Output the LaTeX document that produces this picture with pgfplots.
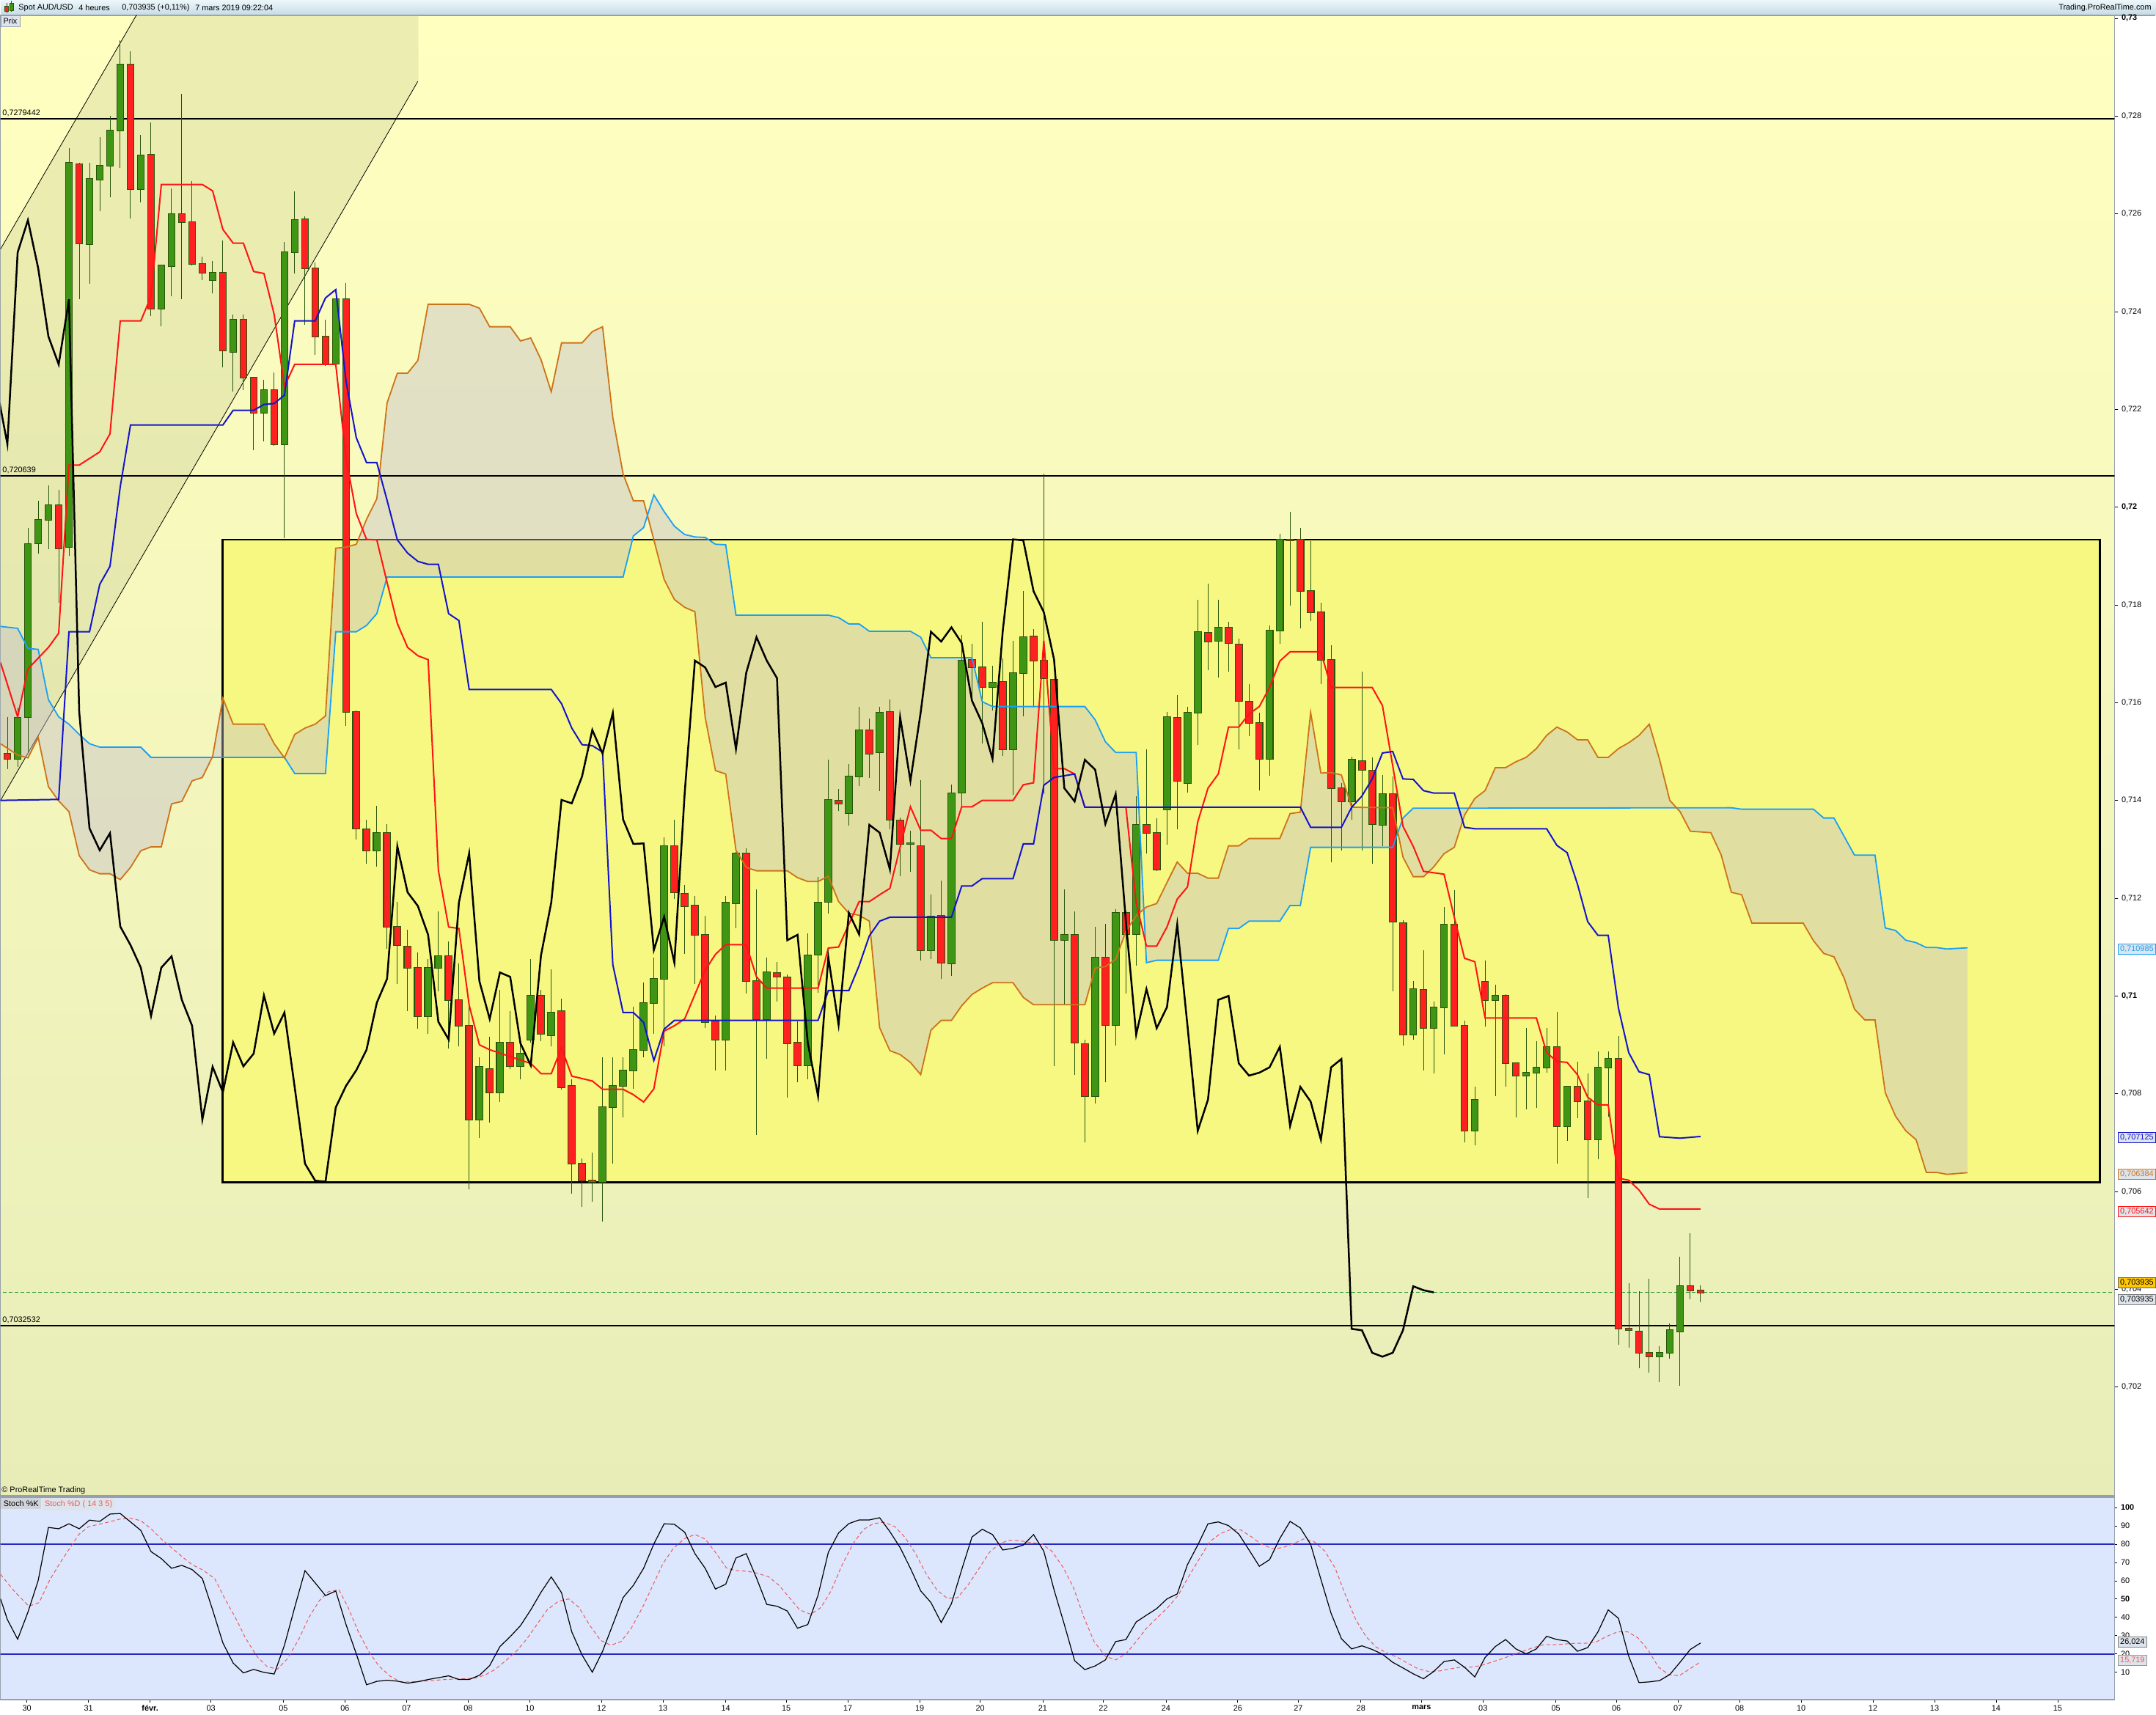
\documentclass[border=0pt]{standalone}
\usepackage{fontspec}
\setmainfont{Liberation Sans}
\usepackage{pgfplots}
\pgfplotsset{compat=1.18}
\usepackage{pgfplotstable}

\definecolor{bgtop}{RGB}{255,255,192}
\definecolor{bgbot}{RGB}{232,237,184}
\definecolor{boxyel}{RGB}{246,248,130}
\definecolor{chan}{RGB}{190,195,140}
\definecolor{kumo}{RGB}{195,190,205}
\definecolor{senkA}{RGB}{25,160,245}
\definecolor{senkB}{RGB}{205,115,25}
\definecolor{tenkan}{RGB}{255,20,20}
\definecolor{kijun}{RGB}{20,20,205}
\definecolor{cgreen}{RGB}{62,150,20}
\definecolor{cred}{RGB}{255,32,32}
\definecolor{cedge}{RGB}{40,85,12}
\definecolor{stochbg}{RGB}{220,230,252}
\definecolor{stochln}{RGB}{40,40,195}
\definecolor{stochd}{RGB}{238,90,90}
\definecolor{hdtop}{RGB}{236,247,252}
\definecolor{hdbot}{RGB}{198,218,228}
\definecolor{framec}{RGB}{150,160,172}
\definecolor{lblbg}{RGB}{222,228,236}
\definecolor{dashgr}{RGB}{30,150,40}

\newcommand\tf{\fontsize{3.1}{3.6}\selectfont}

% candles: x o h l c
\pgfplotstableread{
x o h l c
1 .71485 .71590 .71469 .71569
2 .71571 .71958 .71500 .71924
3 .71926 .72013 .71905 .71974
4 .71974 .72044 .71914 .72004
6 .71918 .72734 .71900 .72704
8 .72538 .72704 .72457 .72671
9 .72670 .72757 .72605 .72698
10 .72698 .72801 .72634 .72770
11 .72770 .72955 .72694 .72906
13 .72650 .72762 .72623 .72719
15 .72406 .72496 .72370 .72494
16 .72493 .72652 .72431 .72599
20 .72464 .72503 .72437 .72480
22 .72318 .72394 .72236 .72384
25 .72193 .72261 .72135 .72240
27 .72129 .72542 .71937 .72521
28 .72521 .72646 .72478 .72587
32 .72294 .72425 .72294 .72425
36 .71298 .71389 .71265 .71333
41 .70959 .71076 .70923 .71058
42 .71058 .71173 .71009 .71081
46 .70747 .70874 .70709 .70855
48 .70803 .71012 .70783 .70905
50 .70856 .70905 .70829 .70882
51 .70910 .71076 .70905 .71001
53 .70920 .71055 .70897 .70966
58 .70619 .70874 .70538 .70772
59 .70772 .70874 .70657 .70816
60 .70816 .70874 .70752 .70848
61 .70848 .70978 .70810 .70890
62 .70890 .71027 .70874 .70986
63 .70986 .71078 .70923 .71035
64 .71035 .71324 .70897 .71306
70 .70911 .71205 .70847 .71191
71 .71189 .71295 .71139 .71292
74 .70953 .71078 .70871 .71048
78 .70858 .71128 .70830 .71083
79 .71085 .71243 .71006 .71191
80 .71192 .71484 .71169 .71401
82 .71374 .71475 .71348 .71449
83 .71449 .71591 .71430 .71544
85 .71498 .71592 .71419 .71579
88 .71311 .71338 .71254 .71312
90 .71094 .71207 .71075 .71162
92 .71066 .71432 .71041 .71414
93 .71416 .71738 .71384 .71686
96 .71632 .71675 .71584 .71641
98 .71504 .71726 .71411 .71661
99 .71660 .71828 .71572 .71734
103 .71114 .71218 .70982 .71125
106 .70795 .71141 .70780 .71079
108 .70941 .71177 .70899 .71170
110 .71127 .71409 .71062 .71350
113 .71382 .71581 .71309 .71570
115 .71436 .71592 .71416 .71580
116 .71580 .71810 .71513 .71745
118 .71727 .71810 .71652 .71754
123 .71485 .71758 .71450 .71747
124 .71747 .71945 .71720 .71934
131 .71398 .71489 .71361 .71483
134 .71350 .71452 .71306 .71413
137 .70921 .71031 .70910 .71014
139 .70934 .70989 .70841 .70977
140 .70977 .71182 .70880 .71146
143 .70724 .70814 .70694 .70788
145 .70992 .71023 .70795 .71000
148 .70837 .70934 .70768 .70843
149 .70843 .70907 .70771 .70854
150 .70854 .70934 .70843 .70896
152 .70734 .70816 .70704 .70814
155 .70706 .70886 .70666 .70854
156 .70854 .70886 .70753 .70871
161 .70262 .70283 .70210 .70270
162 .70270 .70330 .70258 .70316
163 .70314 .70467 .70203 .70406
}\upcandles

\pgfplotstableread{
x o h l c
0 .71495 .71571 .71464 .71485
5 .72004 .72036 .71805 .71916
7 .72702 .72704 .72425 .72539
12 .72906 .72932 .72591 .72650
14 .72721 .72787 .72391 .72406
17 .72599 .72845 .72426 .72583
18 .72583 .72667 .72494 .72498
19 .72497 .72513 .72465 .72480
21 .72480 .72545 .72286 .72320
23 .72384 .72394 .72240 .72265
24 .72265 .72267 .72116 .72193
26 .72240 .72275 .72126 .72129
29 .72589 .72595 .72373 .72489
30 .72489 .72500 .72312 .72349
31 .72349 .72384 .72289 .72292
33 .72425 .72458 .71552 .71581
34 .71581 .71584 .71320 .71343
35 .71341 .71360 .71270 .71298
37 .71333 .71352 .71096 .71142
38 .71142 .71193 .71024 .71104
39 .71101 .71135 .70969 .71058
40 .71058 .71089 .70933 .70959
43 .71081 .71112 .70893 .70992
44 .70992 .71066 .70897 .70939
45 .70939 .70982 .70604 .70747
47 .70851 .70917 .70741 .70803
49 .70905 .70969 .70851 .70856
52 .71001 .71012 .70908 .70923
54 .70969 .70994 .70809 .70813
55 .70816 .70829 .70596 .70657
56 .70657 .70668 .70568 .70622
57 .70622 .70679 .70579 .70620
65 .71307 .71361 .71198 .71212
66 .71209 .71227 .71086 .71184
67 .71185 .71205 .71025 .71125
68 .71125 .71164 .70935 .70947
69 .70948 .70960 .70848 .70911
72 .71291 .71302 .71005 .71030
73 .71030 .71218 .70715 .70953
75 .71047 .71069 .70989 .71039
76 .71038 .71044 .70792 .70903
77 .70905 .70948 .70823 .70858
81 .71400 .71423 .71378 .71394
84 .71544 .71568 .71446 .71496
86 .71581 .71607 .71341 .71361
87 .71359 .71365 .71245 .71311
89 .71307 .71441 .71073 .71094
91 .71164 .71236 .71035 .71068
94 .71687 .71720 .71607 .71672
95 .71672 .71766 .71516 .71632
97 .71643 .71690 .71491 .71505
100 .71736 .71750 .71590 .71686
101 .71686 .72068 .71413 .71650
102 .71647 .71649 .70857 .71114
104 .71125 .71173 .70839 .70904
105 .70902 .70910 .70701 .70795
107 .71079 .71147 .70823 .70941
109 .71170 .71175 .71005 .71126
111 .71350 .71504 .71291 .71334
112 .71333 .71363 .71256 .71259
114 .71569 .71616 .71341 .71440
117 .71743 .71843 .71666 .71725
119 .71754 .71765 .71663 .71722
120 .71719 .71731 .71504 .71604
121 .71602 .71638 .71531 .71558
122 .71558 .71580 .71420 .71485
125 .71934 .71990 .71799 .71932
126 .71934 .71958 .71752 .71828
127 .71828 .71931 .71767 .71785
128 .71785 .71804 .71638 .71688
129 .71688 .71718 .71273 .71425
130 .71425 .71436 .71298 .71398
132 .71480 .71663 .71297 .71463
133 .71461 .71488 .71270 .71352
135 .71413 .71449 .71010 .71152
136 .71149 .71155 .70898 .70921
138 .71013 .71093 .70848 .70934
141 .71146 .71216 .70937 .70939
142 .70939 .70950 .70701 .70724
144 .71029 .71073 .70937 .70992
146 .71000 .71004 .70814 .70862
147 .70862 .70864 .70751 .70837
151 .70896 .70968 .70657 .70734
153 .70814 .70866 .70750 .70784
154 .70784 .70841 .70586 .70706
157 .70871 .70918 .70287 .70319
158 .70319 .70412 .70280 .70316
159 .70314 .70396 .70238 .70270
160 .70270 .70421 .70229 .70262
164 .70406 .70515 .70380 .70398
165 .70398 .70408 .70374 .703935
}\downcandles

% Tenkan-sen
\pgfplotstableread{
x y
-0.67 .71682
1 .71571
2 .71669
4 .71713
5 .71742
6 .72086
7 .72086
9 .72113
10 .72150
11 .72381
13 .72381
14 .72431
15 .72660
19 .72660
20 .72647
21 .72568
22 .72540
23 .72540
24 .72482
25 .72478
26 .72394
27 .72247
28 .72292
32 .72292
33 .72100
34 .71987
35 .71934
36 .71933
37 .71846
38 .71762
39 .71713
40 .71696
41 .71688
42 .71257
43 .71141
44 .71138
45 .70981
46 .70900
47 .70890
51 .70862
52 .70841
53 .70841
54 .70894
55 .70836
57 .70826
58 .70809
60 .70809
61 .70798
62 .70783
63 .70810
64 .70928
65 .70939
66 .70953
68 .71053
69 .71085
70 .71105
72 .71105
73 .71039
74 .71016
79 .71016
80 .71098
81 .71100
83 .71193
84 .71193
85 .71207
86 .71220
87 .71305
88 .71387
89 .71339
90 .71339
91 .71322
92 .71322
93 .71387
94 .71387
95 .71400
98 .71400
99 .71432
100 .71436
101 .71727
102 .71465
103 .71465
104 .71454
105 .71386
109 .71386
110 .71191
111 .71102
112 .71102
113 .71141
114 .71198
115 .71223
116 .71356
117 .71425
118 .71454
119 .71550
120 .71550
121 .71577
122 .71592
123 .71631
124 .71685
125 .71704
128 .71704
129 .71631
133 .71631
134 .71594
135 .71471
136 .71347
137 .71306
138 .71255
140 .71249
141 .71161
142 .71077
143 .71070
144 .70955
149 .70955
150 .70884
151 .70866
152 .70864
153 .70839
154 .70793
155 .70777
156 .70777
157 .70627
158 .70623
159 .70603
160 .70574
161 .70564
165 .705642
}\tenkan

% Kijun-sen
\pgfplotstableread{
x y
-0.67 .71400
5 .71402
6 .71745
8 .71745
9 .71842
10 .71879
11 .72042
12 .72168
21 .72168
22 .72198
24 .72198
25 .72210
26 .72212
27 .72229
28 .72381
30 .72381
31 .72428
32 .72445
33 .72258
34 .72142
35 .72091
36 .72091
37 .72014
38 .71933
39 .71906
40 .71889
41 .71883
42 .71883
43 .71782
44 .71768
45 .71627
53 .71627
54 .71598
55 .71548
56 .71514
57 .71512
58 .71499
59 .71064
60 .70966
61 .70966
62 .70946
63 .70868
64 .70932
65 .70950
79 .70950
80 .71011
82 .71011
83 .71062
84 .71123
85 .71153
86 .71161
92 .71161
93 .71225
94 .71225
95 .71240
98 .71240
99 .71311
100 .71311
101 .71431
102 .71447
104 .71454
105 .71386
126 .71386
127 .71345
130 .71345
131 .71386
132 .71409
133 .71444
134 .71497
135 .71500
136 .71444
137 .71443
138 .71420
139 .71415
141 .71415
142 .71345
143 .71342
150 .71342
151 .71308
152 .71293
153 .71229
154 .71152
155 .71124
156 .71124
157 .70975
158 .70884
159 .70845
160 .70839
161 .70712
163 .70709
165 .707125
}\kijun

% Senkou span A (light blue)
\pgfplotstableread{
x y
-0.67 .71756
1 .71752
2 .71711
3 .71709
4 .71606
5 .71571
6 .71556
7 .71535
8 .71516
9 .71509
13 .71509
14 .71488
27 .71488
28 .71455
31 .71455
32 .71745
34 .71745
35 .71758
36 .71782
37 .71857
60 .71857
61 .71941
62 .71958
63 .72025
64 .71991
65 .71961
66 .71944
67 .71939
68 .71938
69 .71924
70 .71923
71 .71779
80 .71779
81 .71774
82 .71761
83 .71761
84 .71746
88 .71746
89 .71734
90 .71692
94 .71692
95 .71602
96 .71592
105 .71592
106 .71565
107 .71520
108 .71498
110 .71498
111 .71068
112 .71073
118 .71073
119 .71138
120 .71138
121 .71153
124 .71153
125 .71185
126 .71185
127 .71304
135 .71304
136 .71364
137 .71384
168 .71385
169 .71382
176 .71382
177 .71364
178 .71364
179 .71326
180 .71288
182 .71288
183 .71139
184 .71134
185 .71114
186 .71109
187 .71099
188 .71099
189 .71096
191 .710985
}\senkA

% Senkou span B (orange)
\pgfplotstableread{
x y
-0.67 .71516
1 .71493
2 .71487
3 .71529
4 .71428
5 .71399
6 .71377
7 .71287
8 .71258
9 .71250
10 .71250
11 .71238
12 .71263
13 .71297
14 .71305
15 .71305
16 .71393
17 .71398
18 .71440
19 .71447
20 .71490
21 .71609
22 .71556
25 .71556
26 .71516
27 .71487
28 .71535
29 .71548
30 .71556
31 .71573
32 .71916
33 .71918
34 .71924
35 .71975
36 .72017
37 .72213
38 .72274
39 .72274
40 .72300
41 .72415
45 .72415
46 .72407
47 .72369
49 .72369
50 .72340
51 .72346
52 .72302
53 .72236
54 .72336
56 .72336
57 .72359
58 .72369
59 .72183
60 .72068
61 .72013
62 .72013
63 .71933
64 .71852
65 .71811
66 .71795
67 .71786
68 .71570
69 .71461
70 .71454
71 .71298
72 .71263
73 .71256
76 .71256
77 .71242
78 .71234
79 .71234
80 .71245
81 .71193
82 .71169
83 .71165
84 .71153
85 .70935
86 .70888
87 .70880
88 .70864
89 .70839
90 .70930
91 .70950
92 .70950
93 .70980
94 .71003
95 .71016
96 .71027
98 .71027
99 .70997
100 .70982
105 .70982
106 .71057
107 .71060
108 .71075
109 .71132
110 .71164
111 .71182
112 .71189
113 .71232
114 .71274
115 .71251
116 .71251
117 .71241
118 .71241
119 .71307
120 .71307
121 .71322
124 .71322
125 .71373
126 .71376
127 .71580
128 .71456
129 .71457
130 .71452
131 .71386
135 .71385
136 .71284
137 .71244
138 .71244
139 .71264
140 .71291
141 .71304
142 .71370
143 .71404
144 .71420
145 .71467
146 .71467
147 .71479
148 .71488
149 .71506
150 .71533
151 .71550
152 .71540
153 .71524
154 .71524
155 .71488
156 .71488
157 .71506
158 .71518
159 .71533
160 .71556
161 .71484
162 .71400
163 .71377
164 .71337
166 .71334
167 .71289
168 .71212
169 .71207
170 .71149
175 .71149
176 .71113
177 .71087
178 .71080
179 .71036
180 .70973
181 .70951
182 .70951
183 .70802
184 .70754
185 .70724
186 .70706
187 .70639
188 .70639
189 .70635
191 .706384
}\senkB

% cloud outline: span A forward, span B backward
\pgfplotstablevertcat{\kumopoly}{\senkA}
\pgfplotstablesort[sort key=x, sort cmp={float >}]{\senkBrev}{\senkB}
\pgfplotstablevertcat{\kumopoly}{\senkBrev}

% Chikou span (close shifted back 26 periods)
\pgfplotstableread{
x y
-1 .72240
0 .72129
1 .72521
2 .72587
3 .72489
4 .72349
5 .72292
6 .72425
7 .71581
8 .71343
9 .71298
10 .71333
11 .71142
12 .71104
13 .71058
14 .70959
15 .71058
16 .71081
17 .70992
18 .70939
19 .70747
20 .70855
21 .70803
22 .70905
23 .70856
24 .70882
25 .71001
26 .70923
27 .70966
28 .70813
29 .70657
30 .70622
31 .70620
32 .70772
33 .70816
34 .70848
35 .70890
36 .70986
37 .71035
38 .71306
39 .71212
40 .71184
41 .71125
42 .70947
43 .70911
44 .71191
45 .71292
46 .71030
47 .70953
48 .71048
49 .71039
50 .70903
51 .70858
52 .71083
53 .71191
54 .71401
55 .71394
56 .71449
57 .71544
58 .71496
59 .71579
60 .71361
61 .71311
62 .71312
63 .71094
64 .71162
65 .71068
66 .71414
67 .71686
68 .71672
69 .71632
70 .71641
71 .71505
72 .71661
73 .71734
74 .71686
75 .71650
76 .71114
77 .71125
78 .70904
79 .70795
80 .71079
81 .70941
82 .71170
83 .71126
84 .71350
85 .71334
86 .71259
87 .71570
88 .71440
89 .71580
90 .71745
91 .71725
92 .71754
93 .71722
94 .71604
95 .71558
96 .71485
97 .71747
98 .71934
99 .71932
100 .71828
101 .71785
102 .71688
103 .71425
104 .71398
105 .71483
106 .71463
107 .71352
108 .71413
109 .71152
110 .70921
111 .71014
112 .70934
113 .70977
114 .71146
115 .70939
116 .70724
117 .70788
118 .70992
119 .71000
120 .70862
121 .70837
122 .70843
123 .70854
124 .70896
125 .70734
126 .70814
127 .70784
128 .70706
129 .70854
130 .70871
131 .70319
132 .70316
133 .70270
134 .70262
135 .70270
136 .70316
137 .70406
138 .70398
139 .703935
}\chikou

% Stochastic %K
\pgfplotstableread{
x y
-0.67 50.1
0 38.8
1 28.1
2 42.8
3 60.1
4 89.1
5 88.4
6 91.1
7 88.4
8 93.1
9 92.4
10 96.4
11 96.7
12 92.1
13 87.5
14 75.9
15 72.1
16 66.8
17 68.4
18 66.1
19 61.2
20 44.1
21 26.1
22 15.1
23 9.7
24 11.6
25 10.0
26 9.1
27 24.8
28 45.5
29 65.5
30 58.8
31 51.9
32 54.4
33 36.1
34 20.1
35 3.2
36 5.1
37 5.7
38 5.2
39 4.1
40 4.9
41 6.1
42 7.1
43 8.1
44 6.1
45 6.1
46 8.4
47 13.7
48 24.1
49 29.5
50 35.5
51 44.1
52 53.7
53 62.1
54 53.5
55 32.1
56 19.5
57 10.1
58 21.5
59 36.1
60 50.8
61 57.5
62 66.8
63 80.1
64 91.1
65 90.8
66 86.5
67 74.8
68 66.8
69 55.5
70 58.1
71 72.4
72 74.8
73 61.5
74 47.1
75 46.1
76 43.5
77 34.1
78 36.1
79 52.1
80 75.5
81 86.1
82 91.2
83 93.2
84 93.2
85 94.4
86 86.8
87 78.1
88 66.8
89 54.5
90 48.1
91 37.2
92 47.5
93 66.1
94 83.9
95 88.1
96 85.2
97 76.8
98 77.7
99 79.5
100 85.2
101 76.1
102 55.0
103 36.1
104 16.4
105 11.5
106 13.5
107 16.8
108 26.8
109 27.9
110 37.5
111 41.2
112 44.8
113 50.1
114 52.8
115 68.8
116 79.5
117 91.1
118 92.1
119 90.1
120 85.5
121 76.8
122 67.9
123 71.5
124 83.1
125 92.4
126 88.8
127 79.9
128 60.8
129 42.1
130 28.4
131 22.8
132 24.5
133 22.5
134 19.9
135 15.5
136 12.4
137 9.2
138 6.5
139 10.5
140 15.9
141 16.8
142 12.8
143 7.5
144 18.1
145 24.1
146 27.9
147 22.8
148 20.1
149 22.8
150 29.7
151 27.9
152 27.1
153 21.5
154 23.5
155 32.1
156 44.1
157 39.5
158 18.8
159 4.4
160 4.8
161 5.5
162 8.8
163 15.5
164 22.5
165 26.024
}\stochK

% Stochastic %D
\pgfplotstableread{
x y
-0.67 63.5
0.7 54.1
2.1 46.1
3.1 48.1
4.1 60.1
5.1 69.5
6.2 78.8
7 85.5
7.9 89.5
8.9 90.8
9.9 92.1
11 93.7
12 94.1
13 92.8
14 88.4
15 82.8
16.1 77.5
17.1 72.8
18 68.8
19.1 65.7
20.2 61.2
21.2 50.1
22.2 40.1
23.2 28.8
24.3 18.8
25.3 13.2
26.3 11.7
27.3 17.5
28.4 28.1
29.4 40.1
30.4 49.1
31.3 54.1
32.3 55.1
33.2 45.5
34.2 32.1
35.2 21.5
36.2 13.5
37.3 7.9
38.3 4.8
39.3 4.8
40.3 5.1
41.4 5.5
42.4 6.0
43.4 6.3
44.4 6.5
45.5 6.8
46.5 8.4
47.5 11.5
48.5 16.1
49.6 21.5
50.6 28.1
51.6 36.1
52.6 44.1
53.7 48.8
54.7 50.1
55.7 45.5
56.7 36.1
57.8 27.5
58.8 24.8
59.8 26.8
60.8 34.1
61.9 45.5
62.9 57.5
63.9 69.5
64.9 77.7
66 83.1
67 85.2
68 82.8
69 75.5
70.1 66.8
71.1 65.5
72.1 65.2
73.1 64.1
74.2 62.1
75.2 57.5
76.2 50.8
77.2 44.1
78.3 41.7
79.3 45.5
80.3 54.8
81.3 68.1
82.4 80.1
83.4 87.9
84.4 91.2
85.4 91.9
86.5 89.5
87.5 83.5
88.5 74.8
89.5 64.1
90.6 54.8
91.6 50.4
92.6 50.8
93.6 57.5
94.7 66.8
95.7 75.5
96.7 80.4
97.7 82.1
98.8 81.7
99.8 80.8
100.8 80.1
101.8 76.1
102.9 67.1
103.9 56.1
104.9 40.1
105.9 26.8
107 18.8
108 16.8
109 20.1
110 26.8
111 34.1
112.1 40.1
113.1 45.5
114.1 52.1
115.1 62.1
116.1 71.5
117.2 81.5
118.2 85.7
119.2 87.9
120.2 87.7
121.2 84.1
122.2 79.9
123.3 77.5
124.3 78.1
125.3 80.1
126.3 82.8
127.3 81.5
128.4 76.1
129.4 66.8
130.4 52.1
131.4 38.8
132.4 29.5
133.4 23.7
134.5 20.4
135.5 18.1
136.5 14.8
137.5 11.9
138.5 10.5
139.6 10.8
140.6 11.9
141.6 12.8
142.6 12.8
143.6 13.7
144.6 15.5
145.7 17.5
146.7 19.5
147.7 21.5
148.7 23.5
149.7 25.1
150.8 25.1
151.8 25.5
152.8 25.9
153.8 25.9
154.8 26.5
155.8 29.5
156.9 32.1
157.9 32.1
158.9 28.8
159.9 22.1
160.9 12.8
161.9 8.8
162.9 8.1
164 12.1
165 15.719
}\stochD

\pgfplotsset{
  candlewick/.style={draw=none, mark=none, forget plot,
    error bars/.cd, y dir=plus, y explicit, error mark=none,
    error bar style={line width=0.1mm, draw=cedge}},
  candlebody/.style 2 args={draw=none, mark=none, forget plot,
    error bars/.cd, y dir=plus, y explicit, error mark=none,
    error bar style={line width=#1, draw=#2}},
}

\begin{document}
\begin{tikzpicture}
\fill[white] (0,0) rectangle (294mm,234mm);
% header bar
\shade[top color=hdtop, bottom color=hdbot] (0,231.9mm) rectangle (294mm,234mm);
\draw[framec, line width=0.15mm] (0,231.9mm) -- (294mm,231.9mm);
% price panel background
\shade[top color=bgtop, bottom color=bgbot] (0,29.9mm) rectangle (288.4mm,231.9mm);
% stoch panel background
\fill[stochbg] (0,2.1mm) rectangle (288.4mm,29.7mm);

\begin{axis}[
  at={(0,29.9mm)}, anchor=south west,
  width=288.4mm, height=202mm, scale only axis,
  xmin=-0.6664, xmax=205.33,
  ymin=0.6997751, ymax=0.73006,
  axis line style={draw=framec, line width=0.15mm},
  xtick=\empty,
  ytick={0.702,0.704,0.706,0.708,0.71,0.712,0.714,0.716,0.718,0.72,0.722,0.724,0.726,0.728,0.73},
  yticklabels={{0,702},{0,704},{0,706},{0,708},{\bfseries 0,71},{0,712},{0,714},{0,716},{0,718},{\bfseries 0,72},{0,722},{0,724},{0,726},{0,728},{\bfseries 0,73}},
  ytick pos=right, yticklabel pos=right,
  tick align=outside, major tick length=0.5mm,
  tick style={draw=black, line width=0.08mm},
  yticklabel style={font=\tf, anchor=west, inner sep=0.4mm},
  scaled y ticks=false,
  clip=true,
]
% rising channel shading and lines
\addplot[fill=chan, fill opacity=0.28, draw=none, forget plot]
  coordinates {(-0.6664,0.72528) (12.56,0.73006) (40.05,0.73006) (40.05,0.72873) (-0.6664,0.71400)} -- cycle;
\addplot[black, line width=0.08mm] coordinates {(-0.6664,0.72528) (13.5,0.73040)};
\addplot[black, line width=0.08mm] coordinates {(-0.6664,0.71400) (40.0,0.72871)};

% rectangle zone
\addplot[fill=boxyel, draw=black, line width=0.25mm]
  coordinates {(20.96,0.719331) (203.93,0.719331) (203.93,0.706187) (20.96,0.706187)} -- cycle;

% kumo
\addplot[fill=kumo, fill opacity=0.42, draw=none, forget plot] table {\kumopoly} -- cycle;

% horizontal levels
\addplot[black, line width=0.2mm] coordinates {(-1,0.7279442) (206,0.7279442)};
\addplot[black, line width=0.2mm] coordinates {(-1,0.720639) (206,0.720639)};
\addplot[black, line width=0.2mm] coordinates {(-1,0.7032532) (206,0.7032532)};
\addplot[dashgr, line width=0.1mm, dash pattern=on 0.5mm off 0.3mm] coordinates {(-1,0.703935) (206,0.703935)};

% candles: wicks
\addplot[candlewick] table[x=x, y=l, y error plus expr={\thisrow{h}-\thisrow{l}}] {\upcandles};
\addplot[candlewick] table[x=x, y=l, y error plus expr={\thisrow{h}-\thisrow{l}}] {\downcandles};
% bodies: edge then fill
\addplot[candlebody={1.07mm}{cedge}]
  table[x=x, y expr={\thisrow{o}-0.000014}, y error plus expr={\thisrow{c}-\thisrow{o}+0.000028}] {\upcandles};
\addplot[candlebody={0.85mm}{cgreen}]
  table[x=x, y=o, y error plus expr={\thisrow{c}-\thisrow{o}}] {\upcandles};
\addplot[candlebody={1.07mm}{cedge}]
  table[x=x, y expr={\thisrow{c}-0.000014}, y error plus expr={\thisrow{o}-\thisrow{c}+0.000028}] {\downcandles};
\addplot[candlebody={0.85mm}{cred}]
  table[x=x, y=c, y error plus expr={\thisrow{o}-\thisrow{c}}] {\downcandles};

% ichimoku lines
\addplot[senkA, line width=0.18mm] table {\senkA};
\addplot[senkB, line width=0.18mm] table {\senkB};
\addplot[tenkan, line width=0.2mm] table {\tenkan};
\addplot[kijun, line width=0.2mm] table {\kijun};
\addplot[black, line width=0.25mm] table {\chikou};

\node[font=\tf, anchor=south west, inner sep=0.2mm] at (axis cs:-0.6664,0.7279442) {0,7279442};
\node[font=\tf, anchor=south west, inner sep=0.2mm] at (axis cs:-0.6664,0.720639) {0,720639};
\node[font=\tf, anchor=south west, inner sep=0.2mm] at (axis cs:-0.6664,0.7032532) {0,7032532};
\end{axis}

\begin{axis}[
  at={(0,2.1mm)}, anchor=south west,
  width=288.4mm, height=27.6mm, scale only axis,
  xmin=-0.6664, xmax=205.33,
  ymin=-4.8, ymax=105.6,
  axis line style={draw=framec, line width=0.15mm},
  xtick={1.9,7.9,13.9,19.83,26.9,32.9,38.9,44.9,50.9,57.9,63.9,70,75.9,81.9,88.9,94.8,100.9,106.8,112.9,119.9,125.8,131.9,137.8,143.8,150.9,156.8,162.8,168.8,174.8,181.8,187.8,193.8,199.8},
  xticklabels={30,31,\textbf{févr.},03,05,06,07,08,10,12,13,14,15,17,19,20,21,22,24,26,27,28,\textbf{mars},03,05,06,07,08,10,12,13,14,15},
  xtick pos=bottom,
  ytick={10,20,30,40,50,60,70,80,90,100},
  yticklabels={10,20,30,40,\bfseries 50,60,70,80,90,\bfseries 100},
  ytick pos=right, yticklabel pos=right,
  tick align=outside, major tick length=0.4mm,
  tick style={draw=black, line width=0.08mm},
  yticklabel style={font=\tf, anchor=west, inner sep=0.4mm},
  xticklabel style={font=\tf, inner sep=0.3mm},
]
\addplot[stochln, line width=0.2mm] coordinates {(-1,80) (206,80)};
\addplot[stochln, line width=0.2mm] coordinates {(-1,20) (206,20)};
\addplot[stochd, line width=0.1mm, dash pattern=on 0.5mm off 0.35mm] table {\stochD};
\addplot[black, line width=0.12mm] table {\stochK};
\end{axis}

% header texts and icon
\draw[cedge, line width=0.08mm] (0.85mm,232.2mm) -- (0.85mm,233.6mm);
\fill[cred, draw=cedge, line width=0.05mm] (0.6mm,232.5mm) rectangle (1.1mm,233.2mm);
\draw[cedge, line width=0.08mm] (1.5mm,232.4mm) -- (1.5mm,233.9mm);
\fill[cgreen, draw=cedge, line width=0.05mm] (1.25mm,232.6mm) rectangle (1.75mm,233.6mm);
\node[font=\tf, anchor=west, inner sep=0] at (2.4mm,232.95mm) {Spot AUD/USD};
\node[font=\tf, anchor=west, inner sep=0] at (10.6mm,232.95mm) {4 heures};
\node[font=\tf, anchor=west, inner sep=0] at (16.5mm,232.95mm) {0,703935 (+0,11\%)};
\node[font=\tf, anchor=west, inner sep=0] at (26.5mm,232.95mm) {7 mars 2019 09:22:04};
\node[font=\tf, anchor=east, inner sep=0] at (293.5mm,232.95mm) {Trading.ProRealTime.com};
% Prix tag
\node[font=\tf, anchor=north west, fill=lblbg, draw=framec, line width=0.08mm, inner sep=0.35mm] at (0,231.9mm) {Prix};
\node[font=\tf, anchor=west, inner sep=0] at (0.1mm,30.6mm) {\textcopyright{} ProRealTime Trading};
% stoch tag
\node[font=\tf, anchor=north west, fill=framec!45, inner sep=0.35mm] (sk) at (0,29.65mm) {Stoch \%K};
\node[font=\tf, anchor=north west, fill=lblbg, text=stochd, inner sep=0.35mm] at (sk.north east) {Stoch \%D ( 14 3 5)};
% right value tags
\tikzset{vtag/.style={font=\tf, anchor=west, fill=lblbg, line width=0.08mm, inner sep=0.25mm, minimum height=1.35mm}}
\node[vtag, draw=senkA, text=senkA] at (288.9mm,104.45mm) {0,710985};
\node[vtag, draw=kijun, text=kijun] at (288.9mm,78.8mm) {0,707125};
\node[vtag, draw=senkB, text=senkB] at (288.9mm,73.75mm) {0,706384};
\node[vtag, draw=tenkan, text=tenkan] at (288.9mm,68.65mm) {0,705642};
\node[vtag, draw=black!60, fill={rgb,255:red,255;green,200;blue,0}] at (288.9mm,59.0mm) {0,703935};
\node[vtag, draw=black!50] at (288.9mm,56.65mm) {0,703935};
\node[vtag, draw=black!50] at (288.9mm,9.95mm) {26,024};
\node[vtag, draw=black!40, text=stochd] at (288.9mm,7.4mm) {15,719};
\end{tikzpicture}
\end{document}
